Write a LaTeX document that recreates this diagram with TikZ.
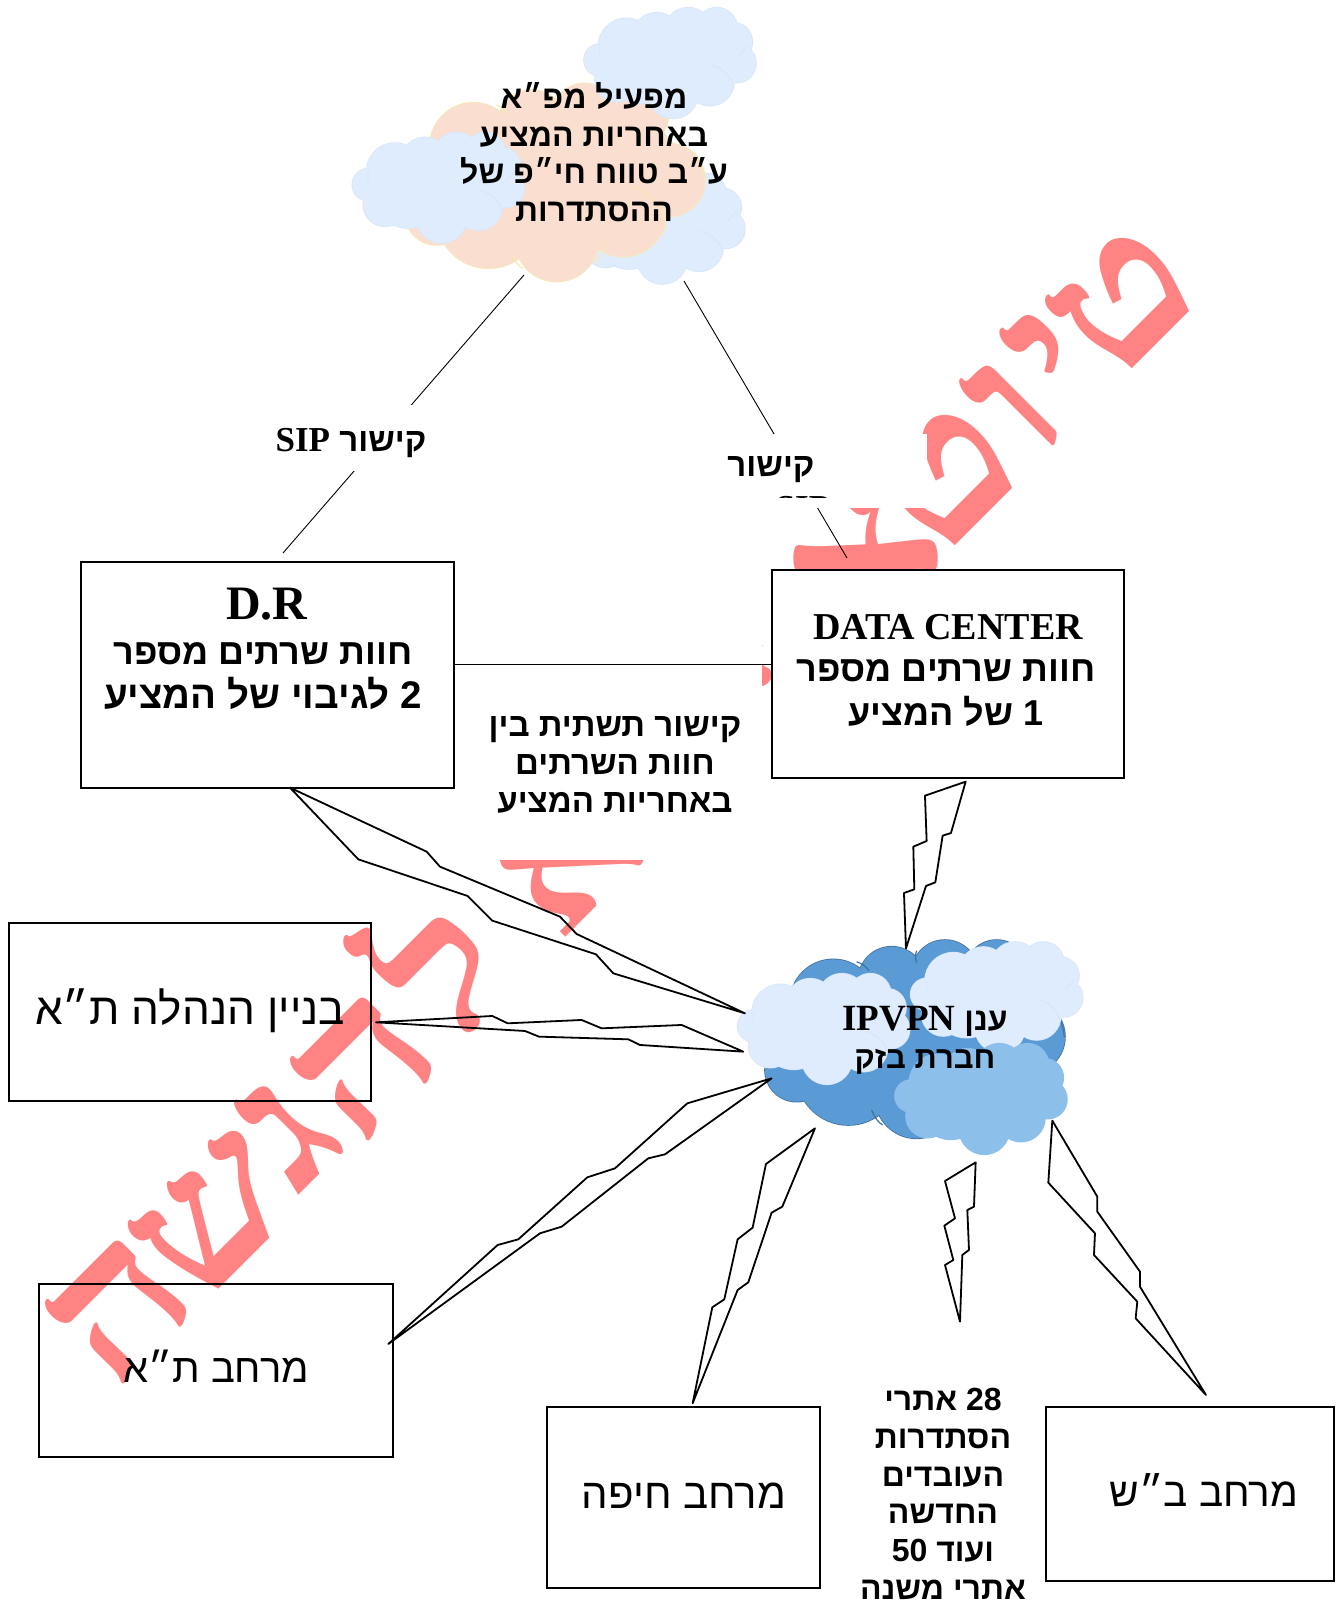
\documentclass[tikz,border=0pt]{standalone}
\usepackage{fontspec}
\usepackage{graphicx}
\TeXXeTstate=1
\setmainfont{Liberation Serif}
\newfontfamily\hebs[Script=Hebrew]{Liberation Sans}
\newfontfamily\hebr[Script=Hebrew]{Liberation Serif}
\newcommand{\he}[1]{\beginR #1\endR}
\newcommand{\la}[1]{\beginL #1\endL}
\newcommand{\wml}[1]{\scalebox{1.18}[1]{#1}}
\definecolor{wmark}{HTML}{FF8383}
\definecolor{pale}{HTML}{DFECFE}
\definecolor{paleline}{HTML}{D8E6FA}
\definecolor{peach}{HTML}{FADFD1}
\definecolor{peachline}{HTML}{F7EBB4}
\definecolor{midblue}{HTML}{5B9BD5}
\definecolor{midline}{HTML}{41719C}
\definecolor{skyblue}{HTML}{8CBFEA}
\def\smalllist{780/180/48,860/140/85,950/110/72,1045/95/72,1130/85/62,1180/125/57,1190/190/58,1110/245/72,1000/280/75,830/240/65,900/210/100,1050/180/100}
\def\biglist{400/438/130,575/370/100,735/350/100,890/345/95,985/540/110,850/640/130,650/720/125,445/650/155,290/640/95,650/520/210,500/550/200,800/500/200}
\newcommand{\SmallCloud}[4]{%
  \begin{scope}[shift={(#1,#2)},x=.3333pt,y=-.3333pt]
    \foreach \a/\b/\c in \smalllist {\draw[#4,line width=1.6pt] (\a,\b) circle[radius=\c];}
    \foreach \a/\b/\c in \smalllist {\fill[#3] (\a,\b) circle[radius=\c];}
    \draw[#4,line width=1pt] (1115,197) .. controls (1150,205) and (1175,230) .. (1178,255);
    \draw[#4,line width=1pt] (1220,135) .. controls (1215,150) and (1205,160) .. (1195,165);
    \draw[#4,line width=1pt] (780,140) .. controls (778,150) and (778,160) .. (780,170);
  \end{scope}}
\newcommand{\BigCloud}[4]{%
  \begin{scope}[shift={(#1,#2)},x=.3333pt,y=-.3333pt]
    \foreach \a/\b/\c in \biglist {\draw[#4,line width=1.6pt] (\a,\b) circle[radius=\c];}
    \foreach \a/\b/\c in \biglist {\fill[#3] (\a,\b) circle[radius=\c];}
    \draw[#4,line width=1.2pt] (880,560) .. controls (950,590) and (985,640) .. (975,690);
    \draw[#4,line width=1.2pt] (515,760) .. controls (525,785) and (535,797) .. (548,805);
    \draw[#4,line width=1.2pt] (790,725) .. controls (786,755) and (778,775) .. (765,790);
    \draw[#4,line width=1.2pt] (470,315) .. controls (490,322) and (500,332) .. (507,342);
    \draw[#4,line width=1.2pt] (650,318) .. controls (645,305) and (645,295) .. (650,282);
    \draw[#4,line width=1.2pt] (1062,455) .. controls (1080,480) and (1090,510) .. (1093,540);
  \end{scope}}
\tikzset{
  box/.style={draw=black,line width=2pt,fill=white,inner sep=0pt,anchor=north west},
  openbox/.style={draw=black,line width=2pt,inner sep=0pt,anchor=north west},
  cover/.style={fill=white,draw=none},
  hebtext/.style={font=\hebs\bfseries\fontsize{33}{38}\selectfont,align=center,inner sep=0pt,text=black},
  hebsmall/.style={font=\hebs\bfseries\fontsize{32}{37.7}\selectfont,align=center,inner sep=0pt,text=black},
  hebwide/.style={font=\hebs\bfseries\fontsize{36}{44}\selectfont,align=center,inner sep=0pt,text=black},
  hebthin/.style={font=\hebs\fontsize{#1}{44}\selectfont,align=center,inner sep=0pt,text=black},
  bolt/.style={draw=black,line width=1.8pt,line join=round},
  thin link/.style={draw=black,line width=.9pt},
  wl/.style={rotate=45,text=wmark,inner sep=0pt,font=\hebr\bfseries\fontsize{190}{190}\selectfont},
}
\begin{document}
\begin{tikzpicture}[x=1pt,y=-1pt]
\useasboundingbox (0,0) rectangle (1338,1606);
\fill[white] (0,0) rectangle (1338,1606);
% watermark, letter by letter
\node[wl] (w1) at (1122,300) {\wml{ט}};
\node[wl] (w2) at (1052,357) {\wml{י}};
\node[wl] (w3) at (1014,406) {\wml{ו}};
\node[wl] (w4) at (945,477) {\wml{ט}};
\node[wl] (w5) at (865,560) {\wml{א}};
\node[wl] (w6) at (725,614) {\wml{ל}};
\node[wl] (w7) at (571,855) {\wml{א}};
\node[wl] (w8) at (433,960) {\wml{ל}};
\node[wl] (w9) at (364,1065) {\wml{ה}};
\node[wl] (w10) at (285,1131) {\wml{ג}};
\node[wl] (w11) at (213,1216) {\wml{ש}};
\node[wl] (w12) at (119,1308) {\wml{ה}};
% white text frames that hide it
\path[cover] (455,510) rectangle (762,860);
\path[cover] (755,580) rectangle (772,645);
\path[cover] (700,434) rectangle (927,508);
% links
\coordinate (cloudL) at (524,275);
\coordinate (cloudR) at (684,281);
\coordinate (drTop) at (283,553);
\coordinate (dcTop) at (847,558);
\coordinate (drE) at (455,664);
\coordinate (dcW) at (773,664);
\draw[thin link] (cloudL) -- (drTop);
\draw[thin link] (cloudR) -- (dcTop);
\path[cover] (250,405) rectangle (440,471);
\path[cover] (700,434) rectangle (927,508);
% clouds top
\SmallCloud{329}{165.7}{pale}{paleline}
\BigCloud{340}{0}{peach}{peachline}
\SmallCloud{340}{0}{pale}{paleline}
\SmallCloud{108.3}{124.7}{pale}{paleline}
% clouds lower
\BigCloud{700}{856.7}{midblue}{midline}
\SmallCloud{493.7}{966}{pale}{paleline}
\SmallCloud{666.7}{934.3}{pale}{paleline}
\SmallCloud{651}{1036}{skyblue}{skyblue}
% boxes
\node[box,minimum width=373pt,minimum height=226pt] (dr) at (80,561) {};
\node[box,minimum width=352pt,minimum height=208pt] (dc) at (771,569) {};
\node[openbox,minimum width=362pt,minimum height=178pt] (hq) at (8,922) {};
\node[openbox,minimum width=354pt,minimum height=173pt] (ta) at (38,1283) {};
\node[box,minimum width=273pt,minimum height=181pt] (hf) at (546,1406) {};
\node[box,minimum width=288pt,minimum height=174pt] (bs) at (1045,1406) {};
\draw[thin link] (drE) -- (dcW);
% lightning
\begin{scope}[shift={(700,760)},x=.3333pt,y=-.3333pt]
\draw[bolt] (797,65)--(675,107)--(680,243)--(640,260)--(643,388)--(612,399)--(618,565)--(678,378)--(706,367)--(728,227)--(753,219)--cycle;
\end{scope}
\begin{scope}[shift={(270,770)},x=.3333pt,y=-.3333pt]
\draw[bolt] (60,53)--(470,245)--(510,290)--(870,440)--(920,492)--(1425,730)--(1030,610)--(978,553)--(667,452)--(593,378)--(265,268)--cycle;
\draw[bolt] (318,757)--(667,738)--(713,760)--(935,750)--(995,775)--(1235,765)--(1420,845)--(1110,825)--(1075,808)--(807,800)--(765,783)--cycle;
\end{scope}
\begin{scope}[shift={(370,1060)},x=.3333pt,y=-.3333pt]
\draw[bolt] (55,852)--(383,555)--(445,538)--(652,352)--(735,325)--(952,130)--(1205,55)--(885,283)--(835,295)--(575,500)--(510,520)--cycle;
\draw[bolt] (968,1030)--(1027,742)--(1063,718)--(1103,538)--(1148,503)--(1188,312)--(1335,205)--(1237,440)--(1205,458)--(1135,667)--(1103,690)--cycle;
\end{scope}
\begin{scope}[shift={(850,1100)},x=.3333pt,y=-.3333pt]
\draw[bolt] (377,187)--(285,243)--(315,355)--(283,377)--(310,480)--(285,495)--(330,665)--(337,465)--(357,450)--(352,330)--(372,320)--cycle;
\draw[bolt] (607,62)--(595,248)--(735,400)--(732,465)--(862,605)--(857,655)--(1068,885)--(870,560)--(870,515)--(742,335)--(742,290)--cycle;
\end{scope}
% texts
\node[hebsmall] (t1) at (594,152) {\he{מפעיל מפ״א}\\\he{באחריות המציע}\\\he{ע״ב טווח חי״פ של}\\\he{ההסתדרות}};
\node[hebtext] (sip) at (351,443) {\he{קישור \la{{\rmfamily\fontsize{35}{38}\selectfont SIP}}}};
\node[hebtext] (sip2) at (771,470) {\he{קישור}};
\begin{scope}
\clip (700,434) rectangle (927,497);
\node[font=\rmfamily\bfseries\fontsize{35}{38}\selectfont,inner sep=0pt] (sip3) at (803,508) {SIP};
\end{scope}
\node[inner sep=0pt,font=\rmfamily\bfseries\fontsize{48}{50}\selectfont] (drt) at (267,604) {D.R};
\node[hebwide] (drb) at (263,676.5) {\he{חוות שרתים מספר}\\{\fontsize{38.5}{44}\selectfont\he{2 לגיבוי של המציע}}};
\node[inner sep=0pt,font=\rmfamily\bfseries\fontsize{38}{40}\selectfont] (dct) at (948,627) {DATA CENTER};
\node[hebwide] (dcb) at (946,693) {\he{חוות שרתים מספר}\\\he{1 של המציע}};
\node[hebtext] (mid) at (615,765) {\he{קישור תשתית בין}\\\he{חוות השרתים}\\\he{באחריות המציע}};
\node[hebthin=44] (hqt) at (190,1011) {\he{בניין הנהלה ת״א}};
\node[hebsmall] (ip) at (925,1040) {\he{ענן \la{{\rmfamily\fontsize{37}{38}\selectfont IPVPN}}}\\{\fontsize{31}{38}\selectfont\he{חברת בזק}}};
\node[hebthin=40] (tat) at (216,1366) {\he{מרחב ת״א}};
\node[hebthin=42] (hft) at (684,1496) {\he{מרחב חיפה}};
\node[hebthin=40.5] (bst) at (1204,1490) {\he{מרחב ב״ש}};
\node[hebsmall] (sites) at (943,1494) {\he{\la{28} אתרי}\\\he{הסתדרות}\\\he{העובדים}\\\he{החדשה}\\\he{ועוד \la{50}}\\\he{אתרי משנה}};
\end{tikzpicture}
\end{document}
